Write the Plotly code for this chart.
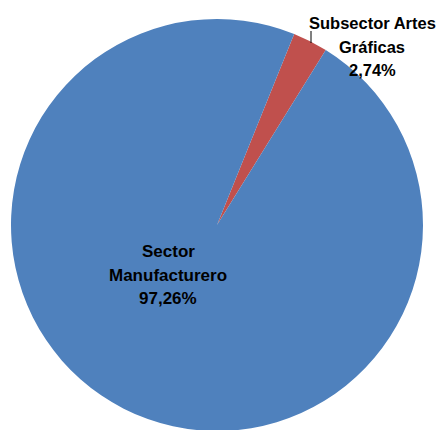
import plotly.graph_objects as go

labels = ["Subsector Artes Gráficas", "Sector Manufacturero"]
label_lines = [["Subsector Artes", "Gráficas"], ["Sector", "Manufacturero"]]
values = [2.74, 97.26]
colors = ["#C0504D", "#4F81BD"]

W, H = 444, 430
OFF = 8  # page body margin offset

def fmt(v):
    return f"{v:.2f}".replace(".", ",") + "%"

def px(x, y):
    return (x - OFF) / W, 1 - (y - OFF) / H

# pie geometry in screen pixels
cx, cy, r = 217, 225, 206
x0, y0 = px(cx - r, cy - r)
x1, y1 = px(cx + r, cy + r)

fig = go.Figure(go.Pie(
    labels=labels,
    values=values,
    sort=False,
    direction="clockwise",
    rotation=22,
    marker=dict(colors=colors, line=dict(width=0)),
    textinfo="none",
    hoverinfo="label+percent",
    domain=dict(x=[x0, x1], y=[y1, y0]),
    showlegend=False,
))

# label centers (screen px): x center, first line middle y, line step, font size
anchors = [(372, 23.5, 23.3, 16.5), (168, 252, 23, 17)]
for lines, v, (ax, ay, step, fs) in zip(label_lines, values, anchors):
    for i, t in enumerate(lines + [fmt(v)]):
        x, y = px(ax, ay + i * step)
        fig.add_annotation(
            x=x, y=y, xref="paper", yref="paper",
            text="<b>" + t + "</b>",
            showarrow=False,
            font=dict(family="Liberation Sans, Arial, sans-serif", size=fs, color="#000000"),
            align="center", xanchor="center", yanchor="middle",
        )

lx, ly0 = px(311, 31)
_, ly1 = px(311, 43)
fig.add_shape(type="line", xref="paper", yref="paper",
              x0=lx, x1=lx, y0=ly0, y1=ly1,
              line=dict(color="#000000", width=1))

fig.update_layout(
    width=W, height=H,
    margin=dict(l=0, r=0, t=0, b=0),
    paper_bgcolor="white", plot_bgcolor="white",
)
fig.write_html("out.html")
